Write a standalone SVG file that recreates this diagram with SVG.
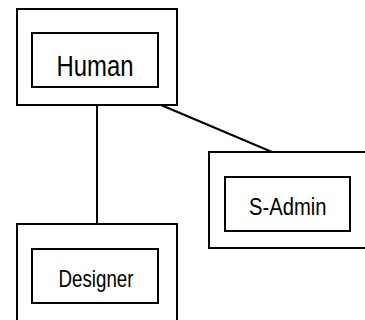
<svg xmlns="http://www.w3.org/2000/svg" width="365" height="320" viewBox="0 0 365 320">
  <style>
    .box { fill: none; stroke: #000; stroke-width: 2; }
    .edge { stroke: #000; stroke-width: 2; fill: none; }
    .label { font-family: "Liberation Sans", Arial, sans-serif; fill: #000; }
  </style>
  <rect width="365" height="320" fill="#fff"/>
  <g id="connectors">
    <line class="edge" x1="97" y1="105" x2="97" y2="224"/>
    <line class="edge" x1="161" y1="105" x2="272" y2="152"/>
  </g>
  <g id="human">
    <rect class="box" x="17" y="9" width="160" height="96"/>
    <rect class="box" x="32" y="33" width="126" height="54"/>
    <text class="label" x="56.5" y="75.7" font-size="29" textLength="77" lengthAdjust="spacingAndGlyphs">Human</text>
  </g>
  <g id="s-admin">
    <rect class="box" x="209" y="152" width="170" height="96"/>
    <rect class="box" x="225" y="177" width="125" height="54"/>
    <text class="label" x="249" y="215.3" font-size="24.6" textLength="77.5" lengthAdjust="spacingAndGlyphs">S-Admin</text>
  </g>
  <g id="designer">
    <rect class="box" x="17" y="224" width="160" height="110"/>
    <rect class="box" x="32" y="249" width="126" height="54"/>
    <text class="label" x="58.5" y="286.7" font-size="24.3" textLength="75" lengthAdjust="spacingAndGlyphs">Designer</text>
  </g>
</svg>
